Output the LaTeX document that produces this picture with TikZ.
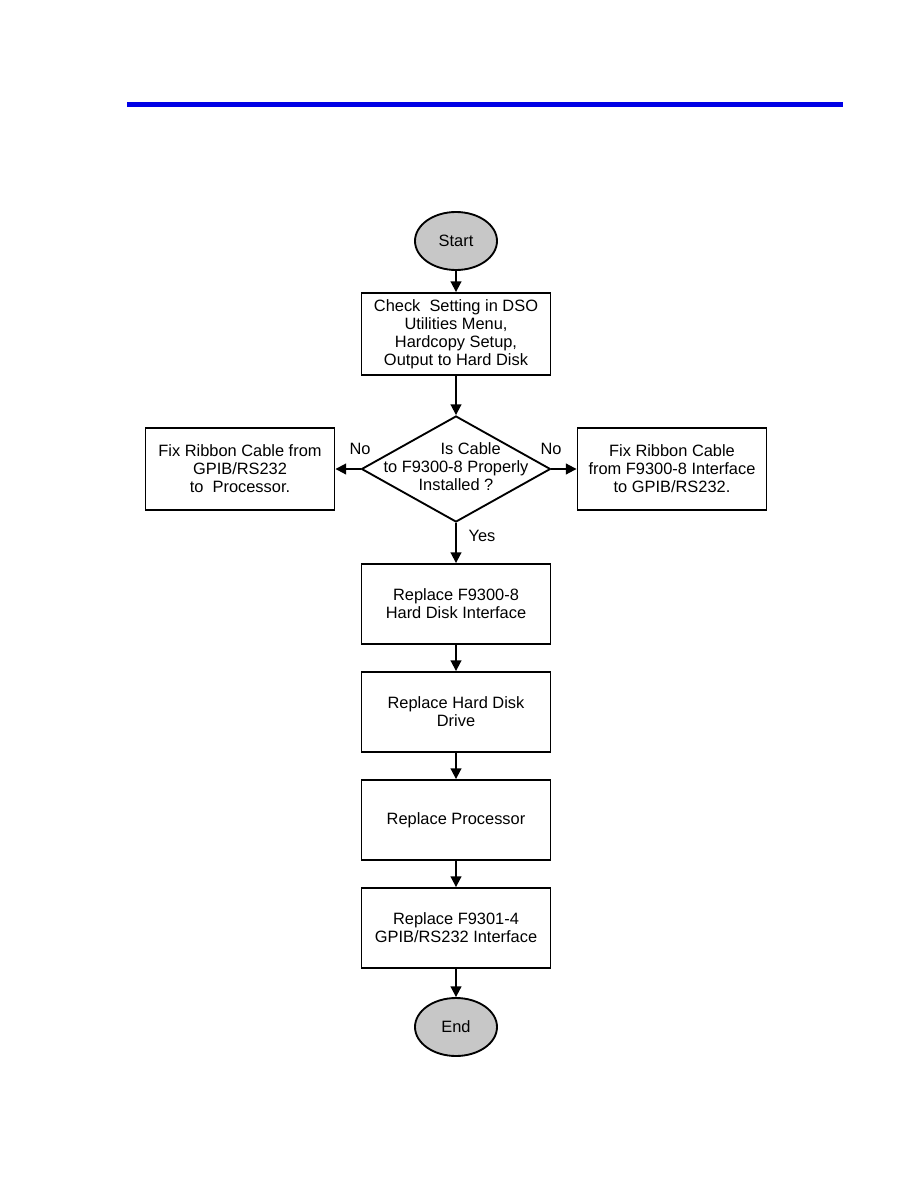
\documentclass[tikz,border=0pt]{standalone}
\usepackage{fontspec}
\setmainfont{Liberation Sans}
\usetikzlibrary{shapes.geometric,arrows.meta}
\definecolor{barblue}{RGB}{0,0,230}
\tikzset{
  stepbox/.style={rectangle,draw=black,line width=1.4pt,minimum width=141.75pt,minimum height=61.5pt,align=center,inner sep=0pt,font=\fontsize{12.3}{13.5}\selectfont},
  midbox/.style={stepbox,minimum height=60pt},
  termnode/.style={ellipse,draw=black,line width=1.4pt,fill=black!22,minimum width=61.5pt,minimum height=43.5pt,inner sep=0pt,font=\fontsize{12.3}{13.5}\selectfont},
  decision/.style={diamond,draw=black,line width=1.4pt,minimum width=141.75pt,minimum height=79.5pt,inner sep=0pt},
  flow/.style={-{Triangle[length=8pt,width=8pt]},line width=1.4pt},
  txt/.style={align=center,inner sep=1pt,font=\fontsize{12.3}{13.5}\selectfont},
}

\begin{document}
\begin{tikzpicture}[x=0.75pt,y=-0.75pt]
  \useasboundingbox (0,0) rectangle (918,1188);
  % header rule
  \fill[barblue] (127,102) rectangle (843,107);
  % main column
  \node[termnode] (start) at (456,241) {Start};
  \node[stepbox] (setup) at (456,334) {Check\ \ Setting in DSO\\Utilities Menu,\\Hardcopy Setup,\\Output to Hard Disk};
  \node[decision] (cable) at (456,469) {};
  \node[txt] (cabletxt) at (456,467) {\hspace*{22pt}Is Cable\\to F9300-8 Properly\\Installed ?};
  \node[stepbox] (fixleft) at (240,469) {Fix Ribbon Cable from\\GPIB/RS232\\to\ \ Processor.};
  \node[stepbox] (fixright) at (672,469) {Fix Ribbon Cable\\from F9300-8 Interface\\to GPIB/RS232.};
  \node[midbox] (hdif) at (456,604) {Replace F9300-8\\Hard Disk Interface};
  \node[midbox] (hdd) at (456,712) {Replace Hard Disk\\Drive};
  \node[midbox] (proc) at (456,820) {Replace Processor};
  \node[midbox] (gpib) at (456,928) {Replace F9301-4\\GPIB/RS232 Interface};
  \node[termnode] (finish) at (456,1027) {End};
  % connectors
  \draw[flow] (start) -- (setup);
  \draw[flow] (setup) -- (cable);
  \draw[flow] (cable.west) -- (fixleft);
  \draw[flow] (cable.east) -- (fixright);
  \draw[flow] (cable.south) -- (hdif);
  \draw[flow] (hdif) -- (hdd);
  \draw[flow] (hdd) -- (proc);
  \draw[flow] (proc) -- (gpib);
  \draw[flow] (gpib) -- (finish);
  % branch labels
  \node[txt] (nol) at (360,449) {No};
  \node[txt] (nor) at (551,449) {No};
  \node[txt] (yes) at (482,536) {Yes};
\end{tikzpicture}
\end{document}
